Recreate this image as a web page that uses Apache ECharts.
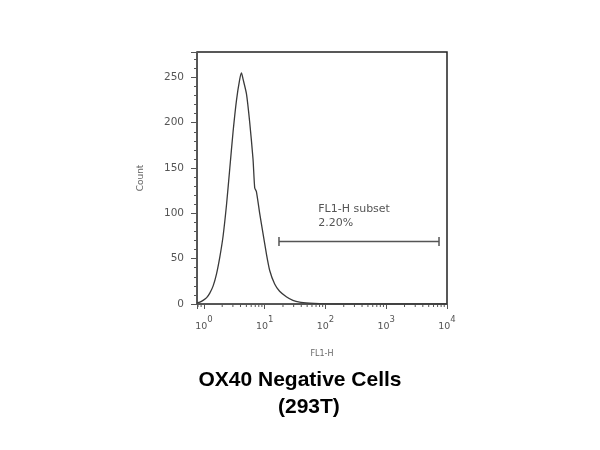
<!DOCTYPE html>
<html>
<head>
<meta charset="utf-8">
<script src="https://cdn.jsdelivr.net/npm/echarts@6/dist/echarts.min.js"></script>
<style>html,body{margin:0;padding:0;background:#fff}#c{width:600px;height:450px}</style>
</head>
<body>
<div id="c"></div>
<script>
// Histogram: FL1-H fluorescence (x) vs Count (y)
const fl1Values = [0.77,0.86,0.97,1.11,1.25,1.42,1.61,1.83,2.07,2.36,2.67,3.02,3.44,3.89,4.15,4.41,5.01,5.68,6.43,6.86,7.31,8.28,9.38,10.7,12.1,14.6,17.6,22.7,29.1,37.5,54.7,79.8,170,1000,10000];
const countValues = [1,2,4,7,12,20,33,52,75,110,150,190,225,248,255,248,232,200,160,128,124,100,78,55,37,22,14,8,4,2,1,0.5,0,0,0];
// Gate
const gateRange = [17.2, 7390];
const gateLevel = 69;
const gateLabel = ['FL1-H subset', '2.20%'];
// Axes
const xMin = 0.77, xMax = 10000;
const yMax = 278;
const xMinorTicks = [0.8,0.9,2,3,4,5,6,7,8,9,20,30,40,50,60,70,80,90,200,300,400,500,600,700,800,900,2000,3000,4000,5000,6000,7000,8000,9000];
const titleLines = ['OX40 Negative Cells', '(293T)'];

const chart = echarts.init(document.getElementById('c'));
const histData = fl1Values.map((v, i) => [v, countValues[i]]);
const gateData = gateRange.map(v => [v, gateLevel]);

chart.setOption({
  animation: false,
  backgroundColor: '#fff',
  title: [
    {text: titleLines[0], left: 'center', top: 367, padding: 0,
     textStyle: {fontFamily: 'Liberation Sans', fontSize: 21, fontWeight: 'bold', color: '#000', lineHeight: 27}},
    {text: titleLines[1], left: 278, top: 394, padding: 0,
     textStyle: {fontFamily: 'Liberation Sans', fontSize: 21, fontWeight: 'bold', color: '#000', lineHeight: 27}}
  ],
  grid: {left: 197, right: 153, top: 52, bottom: 146, show: true, borderColor: '#222', borderWidth: 1.5, backgroundColor: 'transparent'},
  xAxis: {
    type: 'log', logBase: 10, min: xMin, max: xMax,
    name: 'FL1-H', nameLocation: 'middle', nameGap: 46,
    nameTextStyle: {fontFamily: 'DejaVu Sans', fontSize: 8, color: '#666'},
    axisLine: {show: true, lineStyle: {color: '#555', width: 1}},
    axisTick: {show: true, inside: false, length: 5, lineStyle: {color: '#555'}},
    splitLine: {show: false},
    axisLabel: {
      margin: 11,
      formatter: function (v) {
        const e = Math.log10(v);
        if (Math.abs(e - Math.round(e)) > 1e-6) return '';
        return '{b|10}{s|' + Math.round(e) + '}';
      },
      rich: {
        b: {fontFamily: 'DejaVu Sans', fontSize: 9.5, color: '#555'},
        s: {fontFamily: 'DejaVu Sans', fontSize: 8.5, color: '#555', padding: [0, 0, 14, 0]}
      }
    }
  },
  yAxis: {
    type: 'value', min: 0, max: yMax, interval: 50,
    name: 'Count', nameLocation: 'middle', nameGap: 52,
    nameTextStyle: {fontFamily: 'DejaVu Sans', fontSize: 9, color: '#666'},
    axisLine: {show: true, lineStyle: {color: '#555', width: 1}},
    axisTick: {show: true, inside: false, length: 6, lineStyle: {color: '#555'}},
    minorTick: {show: true, splitNumber: 5, length: 3, lineStyle: {color: '#555'}},
    splitLine: {show: false},
    axisLabel: {fontFamily: 'DejaVu Sans', fontSize: 10.5, color: '#555', margin: 13, showMaxLabel: false}
  },
  series: [
    {
      type: 'line', data: histData, showSymbol: false, symbol: 'none', smooth: 0.2,
      lineStyle: {color: '#3a3a3a', width: 1.3}, z: 3
    },
    {
      type: 'line', data: gateData, symbol: 'rect', symbolSize: [1.5, 9], showSymbol: true,
      itemStyle: {color: '#555'}, lineStyle: {color: '#555', width: 1.5},
      label: {
        show: true,
        formatter: function (p) { return p.dataIndex === 0 ? gateLabel.join('\n') : ''; },
        position: [40, -35], align: 'left', verticalAlign: 'top',
        fontFamily: 'DejaVu Sans', fontSize: 11, color: '#555', lineHeight: 14
      }
    },
    {
      type: 'custom', clip: false, silent: true, z: 1,
      data: xMinorTicks.map(v => [v, 0]),
      encode: {x: 0, y: 1},
      renderItem: function (params, api) {
        const p = api.coord([api.value(0), 0]);
        return {type: 'line', shape: {x1: p[0], y1: p[1], x2: p[0], y2: p[1] + 3}, style: {stroke: '#555', lineWidth: 1}};
      }
    }
  ]
});
</script>
</body>
</html>
